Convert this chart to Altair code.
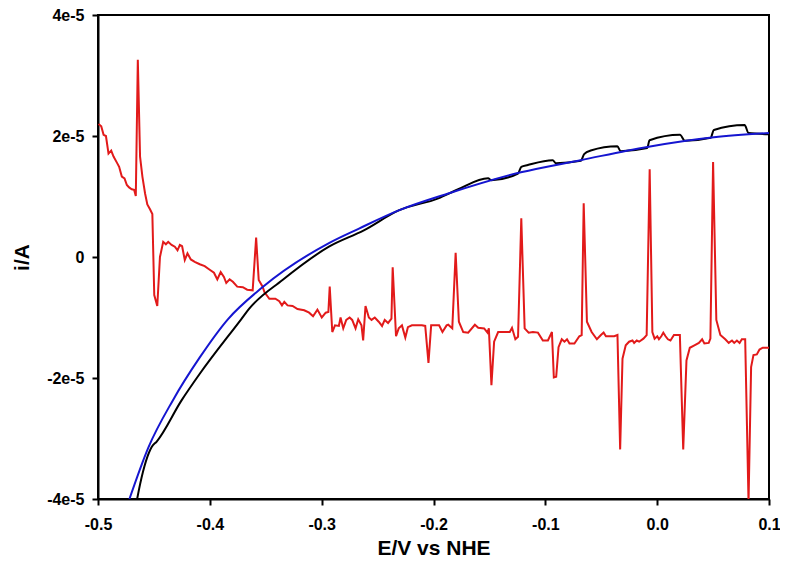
import altair as alt
import pandas as pd

# ---- data (E in V vs NHE, current in units of 1e-5 A) ----
red_E = [-0.4995, -0.4971, -0.4950, -0.4929, -0.4906, -0.4882, -0.4861, -0.4831, -0.4811, -0.4787,
         -0.4763, -0.4742, -0.4722, -0.4698, -0.4677, -0.4662, -0.4644, -0.4624, -0.4603, -0.4579,
         -0.4559, -0.4535, -0.4514, -0.4497, -0.4470, -0.4446, -0.4417, -0.4393, -0.4372, -0.4342,
         -0.4313, -0.4289, -0.4268, -0.4248, -0.4224, -0.4200, -0.4170, -0.4135, -0.4090, -0.4046,
         -0.4001, -0.3963, -0.3933, -0.3903, -0.3874, -0.3853, -0.3823, -0.3794, -0.3755, -0.3705,
         -0.3666, -0.3617, -0.3586, -0.3563, -0.3528, -0.3512, -0.3468, -0.3414, -0.3379, -0.3355,
         -0.3334, -0.3305, -0.3260, -0.3216, -0.3156, -0.3112, -0.3077, -0.3038, -0.2999, -0.2964,
         -0.2940, -0.2928, -0.2905, -0.2881, -0.2846, -0.2831, -0.2807, -0.2780, -0.2750, -0.2727,
         -0.2697, -0.2673, -0.2644, -0.2629, -0.2608, -0.2578, -0.2554, -0.2525, -0.2490, -0.2460,
         -0.2436, -0.2406, -0.2376, -0.2365, -0.2335, -0.2311, -0.2282, -0.2252, -0.2229, -0.2193,
         -0.2104, -0.2074, -0.2045, -0.2021, -0.1950, -0.1920, -0.1883, -0.1868, -0.1832, -0.1802,
         -0.1773, -0.1734, -0.1690, -0.1630, -0.1600, -0.1547, -0.1517, -0.1505, -0.1482, -0.1458,
         -0.1422, -0.1318, -0.1298, -0.1268, -0.1244, -0.1215, -0.1185, -0.1149, -0.1111, -0.1066,
         -0.1022, -0.0977, -0.0941, -0.0924, -0.0903, -0.0882, -0.0853, -0.0829, -0.0806, -0.0784,
         -0.0740, -0.0696, -0.0675, -0.0657, -0.0628, -0.0586, -0.0539, -0.0503, -0.0479, -0.0458,
         -0.0384, -0.0355, -0.0331, -0.0310, -0.0281, -0.0251, -0.0221, -0.0206, -0.0183, -0.0161,
         -0.0123, -0.0094, -0.0067, -0.0043, -0.0023, 0.0001, 0.0016, 0.0037, 0.0055, 0.0075,
         0.0096, 0.0119, 0.0150, 0.0203, 0.0233, 0.0262, 0.0292, 0.0333, 0.0373, 0.0402,
         0.0422, 0.0461, 0.0476, 0.0500, 0.0529, 0.0565, 0.0609, 0.0640, 0.0669, 0.0689,
         0.0713, 0.0737, 0.0757, 0.0787, 0.0817, 0.0840, 0.0861, 0.0891, 0.0915, 0.0944,
         0.1000]
red_i = [2.20, 2.16, 2.02, 2.00, 1.71, 1.76, 1.66, 1.56, 1.49, 1.33,
         1.30, 1.19, 1.15, 1.12, 1.11, 1.01, 3.26, 1.66, 1.33, 1.05,
         0.87, 0.79, 0.71, -0.63, -0.81, 0.00, 0.25, 0.21, 0.25, 0.20,
         0.17, 0.11, 0.20, 0.18, -0.05, 0.06, -0.04, -0.08, -0.12, -0.15,
         -0.21, -0.26, -0.37, -0.25, -0.33, -0.43, -0.37, -0.41, -0.49, -0.50,
         -0.54, -0.55, 0.32, -0.38, -0.49, -0.58, -0.69, -0.69, -0.73, -0.80,
         -0.74, -0.80, -0.81, -0.86, -0.88, -0.92, -0.98, -0.87, -1.00, -0.92,
         -0.91, -0.49, -1.24, -1.13, -1.14, -1.00, -1.18, -1.04, -1.00, -1.04,
         -1.18, -1.03, -1.13, -1.38, -0.81, -1.00, -1.04, -1.00, -1.07, -1.14,
         -1.04, -1.09, -1.02, -0.17, -1.31, -1.18, -1.13, -1.33, -1.16, -1.13,
         -1.13, -1.14, -1.75, -1.13, -1.13, -1.24, -1.13, -1.12, -1.18, 0.07,
         -1.07, -1.24, -1.25, -1.12, -1.17, -1.18, -1.25, -1.18, -2.12, -1.40,
         -1.24, -1.24, -1.17, -1.36, -1.32, 0.64, -1.18, -1.25, -1.24, -1.25,
         -1.38, -1.38, -1.24, -1.99, -1.98, -1.49, -1.36, -1.40, -1.36, -1.43,
         -1.43, -1.31, -1.29, 0.89, -1.07, -1.24, -1.36, -1.29, -1.25, -1.31,
         -1.31, -1.29, -3.18, -1.68, -1.46, -1.40, -1.38, -1.42, -1.38, -1.40,
         -1.35, -1.29, 1.45, -1.24, -1.35, -1.31, -1.36, -1.31, -1.25, -1.31,
         -1.36, -1.38, -1.29, -1.29, -3.18, -1.71, -1.50, -1.46, -1.42, -1.36,
         -1.43, -1.42, -1.35, 1.57, -1.04, -1.29, -1.36, -1.42, -1.38, -1.42,
         -1.38, -1.42, -1.36, -1.36, -4.05, -1.82, -1.62, -1.61, -1.53, -1.50,
         -1.50]

black_E = [-0.4650, -0.4623, -0.4520, -0.4475, -0.4253, -0.4090, -0.3720, -0.3646, -0.3350, -0.2935,
           -0.2623, -0.2311, -0.1957, -0.1779, -0.1512, -0.1483, -0.1244, -0.1215, -0.1157, -0.0934,
           -0.0905, -0.0683, -0.0653, -0.0594, -0.0356, -0.0328, -0.0089, -0.0068, 0.0204, 0.0247,
           0.0478, 0.0507, 0.0782, 0.0817, 0.1000]
black_i = [-4.00, -3.75, -3.14, -3.05, -2.37, -1.93, -1.03, -0.85, -0.38, 0.17,
           0.44, 0.77, 0.97, 1.12, 1.30, 1.27, 1.38, 1.49, 1.52, 1.60,
           1.55, 1.59, 1.70, 1.76, 1.83, 1.75, 1.80, 1.93, 2.02, 1.92,
           1.97, 2.10, 2.18, 2.05, 2.03]

blue_E = [-0.4719, -0.4550, -0.4331, -0.4090, -0.3839, -0.3530, -0.2935, -0.2666, -0.2311, -0.1868,
          -0.1219, -0.0685, -0.0089, 0.0507, 0.1000]
blue_i = [-4.00, -3.15, -2.37, -1.66, -1.03, -0.50, 0.23, 0.47, 0.77, 1.05,
          1.40, 1.60, 1.82, 1.98, 2.05]

x_ticks = [-0.5, -0.4, -0.3, -0.2, -0.1, 0.0, 0.1]
y_ticks = [-4e-5, -2e-5, 0.0, 2e-5, 4e-5]

UNIT = 1e-5
red = pd.DataFrame({"E": red_E, "i": [v * UNIT for v in red_i], "o": range(len(red_E))})
black = pd.DataFrame({"E": black_E, "i": [v * UNIT for v in black_i], "o": range(len(black_E))})
blue = pd.DataFrame({"E": blue_E, "i": [v * UNIT for v in blue_i], "o": range(len(blue_E))})

x_enc = alt.X("E:Q",
              scale=alt.Scale(domain=[-0.5, 0.1], nice=False, zero=False),
              axis=alt.Axis(title="E/V vs NHE", values=x_ticks,
                            labelExpr="datum.value < -0.001 ? '-' + format(-datum.value, '.1f') : format(abs(datum.value), '.1f')",
                            titleY=55, titleBaseline="alphabetic", labelPadding=11))
y_enc = alt.Y("i:Q",
              scale=alt.Scale(domain=[-4e-5, 4e-5], nice=False, zero=False),
              axis=alt.Axis(title="i/A", values=y_ticks,
                            labelExpr="abs(datum.value) < 1e-9 ? '0' : (datum.value < 0 ? '-' : '') + format(abs(datum.value) / 1e-5, '.0f') + 'e-5'",
                            titleX=-70, titleY=242, titleAngle=270, titleAlign="center",
                            titleBaseline="alphabetic", labelPadding=8))

red_line = alt.Chart(red).mark_line(color="#e21a1a", strokeWidth=2, clip=True).encode(
    x=x_enc, y=y_enc, order="o:Q")
black_line = alt.Chart(black).mark_line(color="#000000", strokeWidth=2, clip=True,
                                        interpolate="monotone").encode(
    x="E:Q", y="i:Q", order="o:Q")
blue_line = alt.Chart(blue).mark_line(color="#1515d0", strokeWidth=2, clip=True,
                                      interpolate="monotone").encode(
    x="E:Q", y="i:Q", order="o:Q")

chart = alt.layer(red_line, black_line, blue_line).properties(
    width=671, height=484,
    autosize=alt.AutoSizeParams(type="none"),
    padding={"left": 90, "top": 7, "right": 11, "bottom": 60},
    background="white",
).configure_axis(
    labelFont="Liberation Sans", labelFontWeight="bold", labelFontSize=16, labelColor="black",
    titleFont="Liberation Sans", titleFontWeight="bold", titleFontSize=21, titleColor="black",
    domainColor="black", domainWidth=2, tickColor="black", tickWidth=2, tickSize=6,
    grid=False, labelFlush=False, labelOverlap=False,
).configure_view(stroke="black", strokeWidth=2)

chart.save("out.html", embed_options={"renderer": "svg", "actions": False})
